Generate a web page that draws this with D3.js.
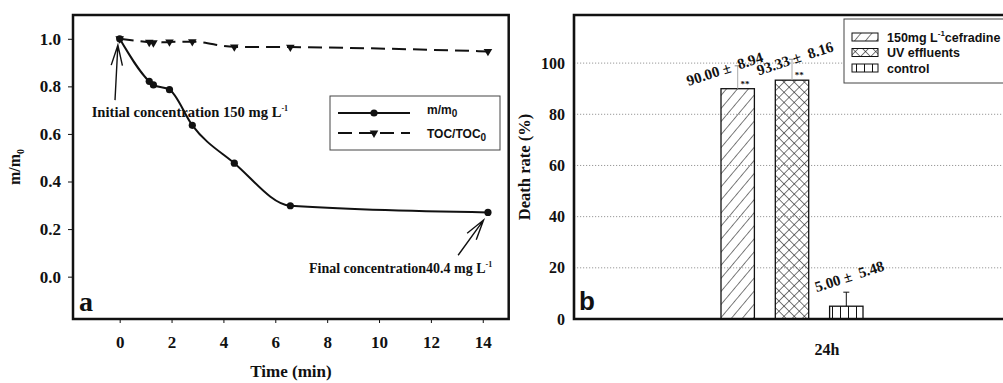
<!DOCTYPE html>
<html>
<head>
<meta charset="utf-8">
<script src="https://cdn.jsdelivr.net/npm/d3@7"></script>
<style>
body { margin: 0; background: #fff; }
text { font-family: "Liberation Serif", "Times New Roman", serif; font-weight: bold; fill: #111; }
.sans { font-family: "Liberation Sans", Arial, sans-serif; }
</style>
</head>
<body>
<svg id="chart" width="1003" height="383"></svg>
<script>
// ---- panel a: removal over time ----
const times = [0, 1.14, 1.3, 1.92, 2.8, 4.42, 6.58, 14.2];
const massRatio = [1.0, 0.821, 0.806, 0.786, 0.636, 0.477, 0.298, 0.27];
const tocRatio = [1.0, 0.985, 0.983, 0.987, 0.988, 0.966, 0.965, 0.947];
const timeTicks = [0, 2, 4, 6, 8, 10, 12, 14];
const ratioTicks = [0, 0.2, 0.4, 0.6, 0.8, 1.0];

// ---- panel b: death rate ----
const groups = ['24h'];
const treatments = ['cefradine', 'uv', 'control'];
const treatmentLabels = ['150mg L', 'UV effluents', 'control'];
const deathRate = [90.00, 93.33, 5.00];
const deathErr = [8.94, 8.16, 5.48];
const rateTicks = [0, 20, 40, 60, 80, 100];

const svg = d3.select('#chart');
const defs = svg.append('defs');

// hatch patterns
defs.append('pattern').attr('id', 'hatch').attr('patternUnits', 'userSpaceOnUse')
    .attr('width', 8.4).attr('height', 8.4).attr('patternTransform', 'rotate(40)')
    .append('line').attr('x1', 0).attr('y1', -1).attr('x2', 0).attr('y2', 10)
    .attr('stroke', '#111').attr('stroke-width', 1.1);
const cross = defs.append('pattern').attr('id', 'cross').attr('patternUnits', 'userSpaceOnUse')
    .attr('width', 7.2).attr('height', 7.2).attr('patternTransform', 'rotate(45)');
cross.append('line').attr('x1', 0).attr('y1', -1).attr('x2', 0).attr('y2', 9)
    .attr('stroke', '#111').attr('stroke-width', 1.1);
cross.append('line').attr('x1', -1).attr('y1', 0).attr('x2', 9).attr('y2', 0)
    .attr('stroke', '#111').attr('stroke-width', 1.1);
defs.append('pattern').attr('id', 'vert').attr('patternUnits', 'userSpaceOnUse')
    .attr('width', 8).attr('height', 8)
    .append('line').attr('x1', 0.5).attr('y1', -1).attr('x2', 0.5).attr('y2', 9)
    .attr('stroke', '#111').attr('stroke-width', 1);
const fills = { cefradine: 'url(#hatch)', uv: 'url(#cross)', control: 'url(#vert)' };

// ================= panel a =================
const a = { left: 73, right: 508.7, top: 15, bottom: 319 };
const xA = d3.scaleLinear().domain([-1.8, 15]).range([a.left, a.right]);
const yA = d3.scaleLinear().domain([-0.178, 1.1]).range([a.bottom, a.top]);

const axA = svg.append('g').attr('transform', `translate(${a.left},0)`)
    .call(d3.axisLeft(yA).tickValues(ratioTicks).tickFormat(d3.format('.1f')).tickSize(5).tickPadding(7));
const axAx = svg.append('g').attr('transform', `translate(0,${a.bottom})`)
    .call(d3.axisBottom(xA).tickValues(timeTicks).tickSize(4).tickPadding(13));
[axA, axAx].forEach(g => {
    g.select('.domain').remove();
    g.selectAll('text').style('font-size', '17px').attr('fill', '#111');
    g.selectAll('line').attr('stroke', '#111');
});

svg.append('rect').attr('x', a.left).attr('y', a.top)
    .attr('width', a.right - a.left).attr('height', a.bottom - a.top)
    .attr('fill', 'none').attr('stroke', '#111').attr('stroke-width', 2.5);

// axis titles
const yTitle = svg.append('text').attr('transform', `translate(20,${(a.top + a.bottom) / 2}) rotate(-90)`)
    .attr('text-anchor', 'middle').style('font-size', '16px');
yTitle.append('tspan').text('m/m');
yTitle.append('tspan').text('0').style('font-size', '10px').attr('dy', 4);

svg.append('text').attr('x', 291).attr('y', 377)
    .attr('text-anchor', 'middle').style('font-size', '17px').text('Time (min)');

svg.append('text').attr('x', 79).attr('y', 311).style('font-size', '28px').text('a');

// annotations
function arrow(tail, tip) {
    const x0 = xA(tail[0]), y0 = yA(tail[1]), x1 = xA(tip[0]), y1 = yA(tip[1]);
    const ang = Math.atan2(y0 - y1, x0 - x1);
    const len = 21, spread = 0.27;
    const h1 = [x1 + len * Math.cos(ang - spread), y1 + len * Math.sin(ang - spread)];
    const h2 = [x1 + len * Math.cos(ang + spread), y1 + len * Math.sin(ang + spread)];
    svg.append('path')
        .attr('d', `M${x0},${y0}L${x1},${y1}M${h1[0]},${h1[1]}L${x1},${y1}L${h2[0]},${h2[1]}`)
        .attr('fill', 'none').attr('stroke', '#111').attr('stroke-width', 1.4);
}
arrow([-0.18, 0.742], [-0.07, 0.973]);
arrow([13.05, 0.09], [14.03, 0.238]);

function annot(x, y, label, size) {
    const t = svg.append('text').attr('x', x).attr('y', y).style('font-size', size + 'px');
    t.append('tspan').text(label);
    t.append('tspan').text('-1').style('font-size', '8px').attr('dy', -6);
}
annot(xA(-1.08), yA(0.672), 'Initial concentration 150 mg L', 14.6);
annot(xA(7.3), yA(0.015), 'Final concentration40.4 mg L', 14);

// lines
const ptsMass = times.map((t, i) => [t, massRatio[i]]);
const ptsToc = times.map((t, i) => [t, tocRatio[i]]);
const line = d3.line().x(d => xA(d[0])).y(d => yA(d[1])).curve(d3.curveMonotoneX);

svg.append('path').attr('d', line(ptsToc)).attr('fill', 'none')
    .attr('stroke', '#111').attr('stroke-width', 2).attr('stroke-dasharray', '14,7');
svg.append('path').attr('d', line(ptsMass)).attr('fill', 'none')
    .attr('stroke', '#111').attr('stroke-width', 2);

const tri = d3.symbol().type(d3.symbolTriangle).size(32);
svg.selectAll('.toc').data(ptsToc).enter().append('path')
    .attr('transform', d => `translate(${xA(d[0])},${yA(d[1])}) rotate(180)`)
    .attr('d', tri).attr('fill', '#111');
svg.selectAll('.mass').data(ptsMass).enter().append('circle')
    .attr('cx', d => xA(d[0])).attr('cy', d => yA(d[1])).attr('r', 3.6).attr('fill', '#111');

// legend a
const lgA = svg.append('g');
lgA.append('rect').attr('x', 330).attr('y', 96).attr('width', 170).attr('height', 54)
    .attr('fill', '#fff').attr('stroke', '#444').attr('stroke-width', 1);
lgA.append('line').attr('x1', 338).attr('x2', 410).attr('y1', 113).attr('y2', 113)
    .attr('stroke', '#111').attr('stroke-width', 2);
lgA.append('circle').attr('cx', 374).attr('cy', 113).attr('r', 3.6).attr('fill', '#111');
lgA.append('line').attr('x1', 338).attr('x2', 410).attr('y1', 133).attr('y2', 133)
    .attr('stroke', '#111').attr('stroke-width', 2).attr('stroke-dasharray', '14,7');
lgA.append('path').attr('transform', 'translate(374,133) rotate(180)').attr('d', tri).attr('fill', '#111');
[['m/m', '0', 114], ['TOC/TOC', '0', 138]].forEach(([s, sub, y]) => {
    const t = lgA.append('text').attr('class', 'sans').attr('x', 427).attr('y', y).style('font-size', '12px');
    t.append('tspan').text(s);
    t.append('tspan').text(sub).style('font-size', '10px').attr('dy', 3);
});

// ================= panel b =================
const b = { left: 574, right: 1080, top: 15, bottom: 319 };
const x0 = d3.scaleBand().domain(groups).range([b.left, b.right]);
const x1 = d3.scaleBand().domain(treatments).range([x0('24h') + 147, x0('24h') + 289]).paddingInner(0.385);
const yB = d3.scaleLinear().domain([0, 118.8]).range([b.bottom, b.top]);

// grid
svg.append('g').selectAll('line').data(rateTicks.filter(d => d > 0)).enter().append('line')
    .attr('x1', b.left).attr('x2', 1003).attr('y1', d => yB(d)).attr('y2', d => yB(d))
    .attr('stroke', '#999').attr('stroke-width', 1).attr('stroke-dasharray', '1.2,1.8');

const axB = svg.append('g').attr('transform', `translate(${b.left},0)`)
    .call(d3.axisLeft(yB).tickValues(rateTicks).tickSize(0).tickPadding(9));
axB.select('.domain').remove();
axB.selectAll('text').style('font-size', '16px').attr('fill', '#111');

svg.append('text').attr('transform', `translate(530,${(b.top + b.bottom) / 2}) rotate(-90)`)
    .attr('text-anchor', 'middle').style('font-size', '16.5px').text('Death rate (%)');

svg.append('text').attr('x', x0('24h') + x0.bandwidth() / 2).attr('y', 355)
    .attr('text-anchor', 'middle').style('font-size', '16px').text('24h');

// bars
const barData = treatments.map((k, i) => ({ key: k, value: deathRate[i], err: deathErr[i] }));
svg.selectAll('.bar').data(barData).enter().append('rect')
    .attr('x', d => x1(d.key)).attr('y', d => yB(d.value))
    .attr('width', x1.bandwidth()).attr('height', d => yB(0) - yB(d.value))
    .attr('fill', d => fills[d.key]).attr('stroke', '#111').attr('stroke-width', 1.3);

// error bars (upper)
const eb = svg.selectAll('.err').data(barData).enter().append('g');
eb.append('line')
    .attr('x1', d => x1(d.key) + x1.bandwidth() / 2).attr('x2', d => x1(d.key) + x1.bandwidth() / 2)
    .attr('y1', d => yB(d.value)).attr('y2', d => yB(d.value + d.err))
    .attr('stroke', (d, i) => i === 2 ? '#111' : '#aaa').attr('stroke-width', 1);
eb.append('line')
    .attr('x1', d => x1(d.key) + x1.bandwidth() / 2 - 3).attr('x2', d => x1(d.key) + x1.bandwidth() / 2 + 3)
    .attr('y1', d => yB(d.value + d.err)).attr('y2', d => yB(d.value + d.err))
    .attr('stroke', (d, i) => i === 2 ? '#111' : '#888').attr('stroke-width', 1);

// value labels
const labelShift = [[-13, -20], [3, -22], [3, -30]];
svg.selectAll('.val').data(barData).enter().append('text')
    .attr('transform', (d, i) => `translate(${x1(d.key) + x1.bandwidth() / 2 + labelShift[i][0]},${yB(d.value) + labelShift[i][1]}) rotate(-18)`)
    .attr('text-anchor', 'middle').attr('dy', '0.35em').style('font-size', '15px')
    .style('white-space', 'pre')
    .text(d => `${d.value.toFixed(2)} \u00b1  ${d.err.toFixed(2)}`);

// significance marks
svg.selectAll('.sig').data(barData.slice(0, 2)).enter().append('text')
    .attr('x', d => x1(d.key) + x1.bandwidth() * 0.72).attr('y', d => yB(d.value) - 2)
    .attr('text-anchor', 'middle').style('font-size', '9px').text('**');

// frame b
svg.append('path')
    .attr('d', `M${b.right},${b.top}H${b.left}V${b.bottom}H${b.right}`)
    .attr('fill', 'none').attr('stroke', '#111').attr('stroke-width', 2.6);

svg.append('text').attr('class', 'sans').attr('x', 579).attr('y', 310).style('font-size', '26px').text('b');

// legend b
const lgB = svg.append('g');
lgB.append('rect').attr('x', 844).attr('y', 19).attr('width', 170).attr('height', 64)
    .attr('fill', '#fff').attr('stroke', '#444').attr('stroke-width', 1);
treatments.forEach((k, i) => {
    const y = 37 + i * 15.5;
    lgB.append('rect').attr('x', 852).attr('y', y - 4).attr('width', 26).attr('height', 8)
        .attr('fill', fills[k]).attr('stroke', '#111').attr('stroke-width', 1);
    const t = lgB.append('text').attr('class', 'sans').attr('x', 887).attr('y', y + 4.5).style('font-size', '12.5px');
    t.append('tspan').text(treatmentLabels[i]);
    if (i === 0) {
        t.append('tspan').text('-1').style('font-size', '8px').attr('dy', -6);
        t.append('tspan').text('cefradine').attr('dy', 6);
    }
});
</script>
</body>
</html>
